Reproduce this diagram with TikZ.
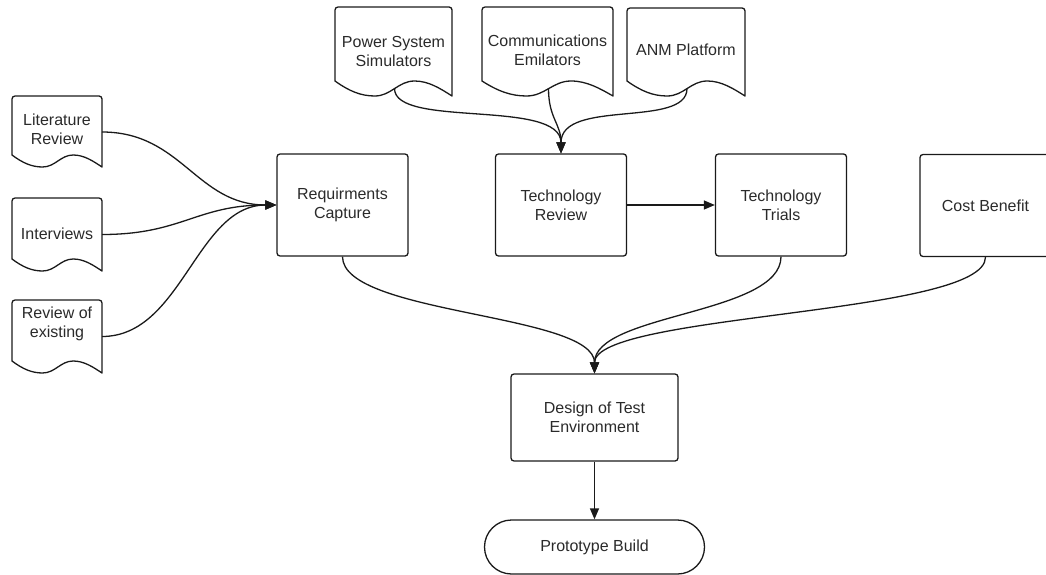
\documentclass[tikz,border=0pt]{standalone}
\usepackage{fontspec}
\setmainfont{Liberation Sans}
\usetikzlibrary{arrows.meta,calc}
\definecolor{linec}{HTML}{1A1A1A}
\definecolor{textc}{HTML}{2A2A2A}
\newcommand{\docpath}[5]{% x1, top, x2, b, amp
  \pgfmathsetmacro\dw{#3-#1}%
  \draw[shapeline] (#1,#4) -- (#1,#2+3) .. controls (#1,#2+1.3) and (#1+1.3,#2) .. (#1+3,#2)
    -- (#3-3,#2) .. controls (#3-1.3,#2) and (#3,#2+1.3) .. (#3,#2+3) -- (#3,#4+#5)
    .. controls (#1+0.9*\dw,#4+0.5*#5) and (#1+0.8*\dw,#4) .. (#1+0.68*\dw,#4)
    .. controls (#1+0.54*\dw,#4) and (#1+0.48*\dw,#4+#5) .. (#1+0.34*\dw,#4+#5)
    .. controls (#1+0.22*\dw,#4+#5) and (#1+0.12*\dw,#4+0.67*#5) .. (#1,#4) -- cycle;%
}
\begin{document}
\begin{tikzpicture}[x=1pt,y=-1pt,
  shapeline/.style={draw=linec,line width=1.3pt,line join=round},
  txt/.style={text=textc,font=\fontsize{16}{19}\selectfont,align=center,inner sep=0pt},
  procbox/.style={txt,draw=linec,line width=1.3pt,rectangle,rounded corners=3pt,
     minimum width=131pt,minimum height=102pt},
  conn/.style={draw=linec,line width=1.3pt,-{Triangle[length=11pt,width=9pt]}}]
\useasboundingbox (0,0) rectangle (1046,575);

% left documents
\docpath{12}{96}{102}{155}{12}
\docpath{12}{198}{102}{259}{12}
\docpath{12}{300}{102}{361}{12}
\node[txt] (lit) at (57,129.5) {Literature\\Review};
\node[txt] (int) at (57,233.5) {Interviews};
\node[txt] (rev) at (57,324) {Review of\\existing};
\coordinate (litR) at (102,132);
\coordinate (intR) at (102,234.5);
\coordinate (revR) at (102,336.5);

% top documents
\docpath{335}{7}{452}{81}{15}
\docpath{482}{7}{613}{81}{15}
\docpath{627}{8}{745}{81}{15}
\node[txt] (pss) at (393.5,51) {Power System\\Simulators};
\node[txt] (com) at (547.5,50) {Communications\\Emilators};
\node[txt] (anm) at (686,50) {ANM Platform};
\coordinate (pssB) at (394.5,88.5);
\coordinate (comB) at (548.5,88.5);
\coordinate (anmB) at (687,88.5);

% process boxes
\node[procbox] (req) at (342.5,205) {Requirments\\Capture};
\node[procbox] (trev) at (561,205) {Technology\\Review};
\node[procbox] (tri) at (781,205) {Technology\\Trials};
\node[procbox] (cost) at (985.5,205.5) {Cost Benefit};
\node[procbox,minimum width=167pt,minimum height=87pt] (des) at (594.5,417.5) {Design of Test\\Environment};
\node[txt,draw=linec,line width=1.3pt,rectangle,rounded corners=27pt,minimum width=220pt,minimum height=54pt] (proto) at (594.5,547) {Prototype Build};

% connectors: left docs -> requirements
\draw[conn] (litR) .. controls ($(litR)+(80,0)$) and ($(req.west)+(-80,0)$) .. (req.west);
\draw[conn] (intR) .. controls ($(intR)+(80,0)$) and ($(req.west)+(-80,0)$) .. (req.west);
\draw[conn] (revR) .. controls ($(revR)+(80,0)$) and ($(req.west)+(-80,0)$) .. (req.west);

% top docs -> technology review
\draw[conn] (pssB) .. controls ($(pssB)+(0,40)$) and ($(trev.north)+(0,-55)$) .. (trev.north);
\draw[conn] (comB) .. controls ($(comB)+(0,30)$) and ($(trev.north)+(0,-30)$) .. (trev.north);
\draw[conn] (anmB) .. controls ($(anmB)+(0,40)$) and ($(trev.north)+(0,-55)$) .. (trev.north);

% technology review -> trials
\draw[conn] (trev.east) -- (tri.west);

% boxes -> design
\draw[conn] (req.south) .. controls ($(req.south)+(0,58)$) and ($(des.north)+(0,-60)$) .. (des.north);
\draw[conn] (tri.south) .. controls ($(tri.south)+(0,58)$) and ($(des.north)+(0,-60)$) .. (des.north);
\draw[conn] (cost.south) .. controls ($(cost.south)+(0,58)$) and ($(des.north)+(0,-60)$) .. (des.north);

% design -> prototype
\draw[conn] (des.south) -- (proto.north);
\end{tikzpicture}
\end{document}
